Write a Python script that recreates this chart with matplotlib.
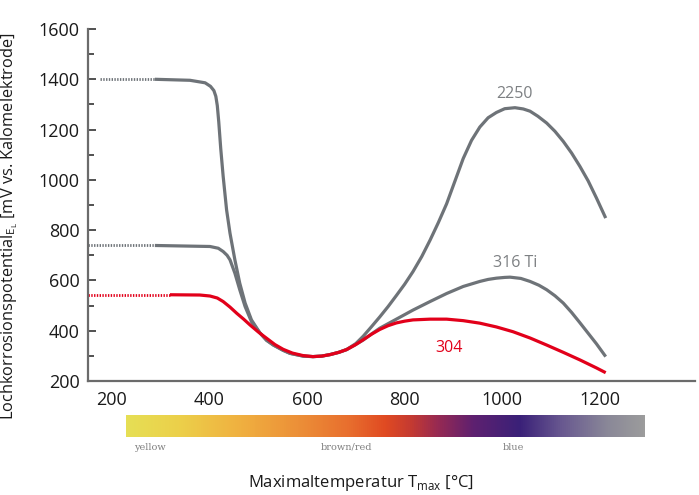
import numpy as np
import matplotlib
matplotlib.use("Agg")
import matplotlib.pyplot as plt
from matplotlib.colors import LinearSegmentedColormap

plt.rcParams['font.family'] = ['Open Sans', 'DejaVu Sans']
plt.rcParams['mathtext.fontset'] = 'custom'
plt.rcParams['mathtext.rm'] = 'Open Sans'

# ---------------- data ----------------
x_ticks = [200, 400, 600, 800, 1000, 1200]
y_ticks = [200, 400, 600, 800, 1000, 1200, 1400, 1600]

# dotted (extrapolated) starting levels
s2250_dot_T = [175, 288]
s2250_dot_V = [1400, 1400]
s316_dot_T = [151, 288]
s316_dot_V = [739, 739]
s304_dot_T = [151, 319]
s304_dot_V = [543, 543]

s2250_T = [288, 360, 391, 402, 409, 413, 416, 419, 423, 428, 435, 442, 452, 462, 473,
           486, 503, 517, 531, 551, 565, 592, 612, 630, 647, 665, 681, 700, 715, 732,
           749, 766, 783, 800, 817, 835, 852, 869, 886, 903, 920, 937, 954, 971, 988,
           1005, 1026, 1043, 1057, 1073, 1091, 1108, 1125, 1142, 1159, 1176, 1193, 1212]
s2250_V = [1400, 1396, 1386, 1372, 1355, 1332, 1295, 1230, 1125, 1014, 881, 788, 682, 589, 510,
           443, 392, 362, 343, 322, 310, 299, 297, 299, 305, 314, 325, 349, 378, 416,
           455, 496, 540, 585, 635, 695, 760, 830, 905, 995, 1085, 1157, 1210, 1247, 1268,
           1283, 1287, 1282, 1273, 1253, 1226, 1193, 1153, 1107, 1054, 996, 928, 848]

s316_T = [288, 401, 418, 428, 436, 442, 452, 462, 473, 486, 503, 517, 531, 551, 565,
          592, 612, 630, 647, 665, 681, 698, 715, 732, 749, 766, 783, 817, 852, 886,
          920, 954, 971, 988, 1005, 1016, 1038, 1057, 1075, 1091, 1108, 1125, 1142, 1159,
          1176, 1193, 1212]
s316_V = [739, 735, 728, 715, 700, 682, 629, 563, 496, 436, 392, 362, 343, 322, 310,
          299, 297, 299, 305, 314, 325, 343, 363, 387, 410, 428, 446, 482, 516, 548,
          576, 596, 604, 609, 612, 613, 608, 596, 581, 563, 539, 510, 473, 432, 390,
          348, 297]

s304_T = [319, 380, 401, 416, 428, 442, 456, 470, 483, 500, 517, 534, 551, 570, 592,
          612, 630, 647, 665, 681, 698, 715, 732, 749, 766, 783, 800, 817, 852, 886,
          920, 954, 988, 1022, 1057, 1091, 1125, 1159, 1193, 1212]
s304_V = [543, 542, 538, 530, 516, 494, 469, 446, 423, 395, 370, 345, 326, 311, 301,
          297, 299, 305, 314, 325, 343, 364, 386, 405, 420, 431, 438, 443, 446, 446,
          440, 430, 415, 396, 371, 343, 314, 284, 252, 233]

labels = ["2250", "316 Ti", "304"]
label_T = [1026, 1026, 890]
label_V = [1343, 671, 330]

bar_labels = ["yellow", "brown/red", "blue"]

# ---------------- style ----------------
GRAY = "#6e7378"
RED = "#e2001a"
W, H = 699, 495

fig = plt.figure(figsize=(W / 100, H / 100), dpi=100)
ax = fig.add_axes([88 / W, 1 - 381 / H, 607 / W, 352 / H])
ax.set_xlim(151, 1395)
ax.set_ylim(200, 1600)

lw = 2.3
dot = (0, (0.5, 0.5))
ax.plot(s2250_dot_T, s2250_dot_V, color=GRAY, lw=2.0, linestyle=dot, dash_capstyle='butt')
ax.plot(s316_dot_T, s316_dot_V, color=GRAY, lw=2.0, linestyle=dot, dash_capstyle='butt')
ax.plot(s304_dot_T, s304_dot_V, color=RED, lw=2.0, linestyle=dot, dash_capstyle='butt')

kw = dict(lw=lw, solid_joinstyle='round', solid_capstyle='butt')
ax.plot(s2250_T, s2250_V, color=GRAY, **kw)
ax.plot(s316_T, s316_V, color=GRAY, **kw)
ax.plot(s304_T, s304_V, color=RED, zorder=3, **kw)

label_colors = ["#7d8083", "#7d8083", RED]
for t, tx, ty, c in zip(labels, label_T, label_V, label_colors):
    ax.text(tx, ty, t, color=c, fontsize=11.5, ha='center', va='center')

for s in ['top', 'right']:
    ax.spines[s].set_visible(False)
for s in ['left', 'bottom']:
    ax.spines[s].set_color('#6b6b6b')
    ax.spines[s].set_linewidth(1.6)

ax.set_xticks(x_ticks)
ax.set_xticklabels([str(v) for v in x_ticks])
ax.tick_params(axis='x', length=0, pad=7, labelsize=13, labelcolor='#1a1a1a')
ax.set_yticks(y_ticks)
ax.set_yticklabels([str(v) for v in y_ticks])
ax.set_yticks(np.arange(300, 1600, 200), minor=True)
ax.tick_params(axis='y', which='major', direction='in', length=5.5, width=1.2,
               color='#333333', pad=6, labelsize=13, labelcolor='#1a1a1a')
ax.tick_params(axis='y', which='minor', direction='in', length=4, width=1.2, color='#333333')

ax.set_ylabel(r"Lochkorrosionspotential$_{\mathregular{E_L}}$ [mV vs. Kalomelektrode]",
              fontsize=11.8, color='#1a1a1a')
ax.yaxis.set_label_coords((20 - 88) / 607, (381 - 226) / 352)

fig.text(361 / W, 1 - 483 / H, r"Maximaltemperatur T$_{\mathregular{max}}$ [°C]",
         fontsize=12, ha='center', va='center', color='#1a1a1a')

# colour strip
cax = fig.add_axes([126 / W, 1 - 437 / H, 519 / W, 22 / H])
stops = [(0.00, "#e6df55"), (0.10, "#ecd04a"), (0.22, "#f0b040"), (0.33, "#ec9038"),
         (0.43, "#e86e2e"), (0.50, "#e04a22"), (0.55, "#c43a32"), (0.60, "#982a52"),
         (0.67, "#5e2070"), (0.76, "#3a2078"), (0.84, "#685890"), (0.93, "#8a8898"),
         (1.00, "#9c9c9c")]
cmap = LinearSegmentedColormap.from_list("strip", stops)
grad = np.linspace(0, 1, 512)[None, :]
cax.imshow(grad, aspect='auto', cmap=cmap, extent=[0, 1, 0, 1])
cax.set_axis_off()

bar_label_x = [150, 346, 513]
for t, px in zip(bar_labels, bar_label_x):
    fig.text(px / W, 1 - 447 / H, t, fontsize=7, color='#808080', ha='center', va='center',
             family='DejaVu Serif')

fig.savefig("out.png", dpi=100)
